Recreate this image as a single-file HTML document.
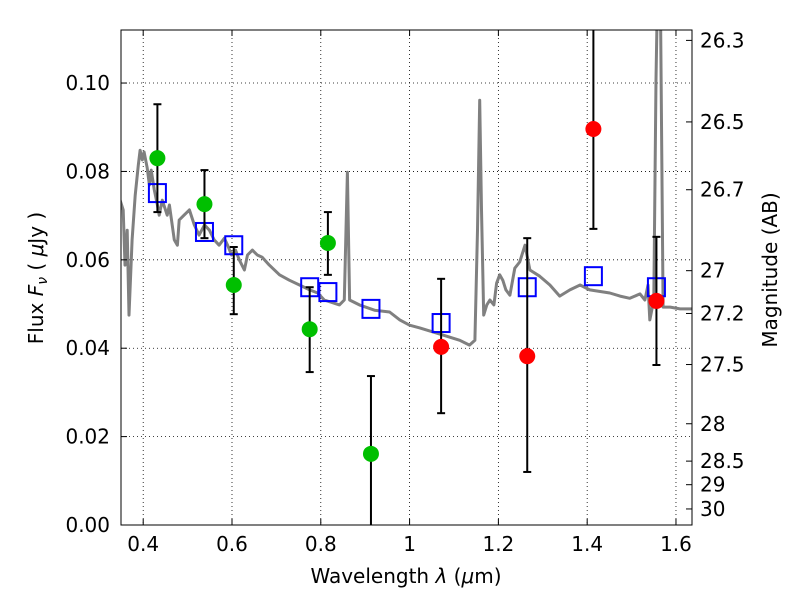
<!DOCTYPE html>
<html><head><meta charset="utf-8"><style>
body{margin:0;background:#fff}
svg text{font-family:"DejaVu Sans","Liberation Sans",sans-serif;font-size:20px;fill:#000}
</style></head><body>
<svg id="chart" width="800" height="600" viewBox="0 0 800 600" xmlns="http://www.w3.org/2000/svg">
<defs><clipPath id="clip"><rect x="121" y="30" width="571" height="495"/></clipPath></defs>
<rect x="0" y="0" width="800" height="600" fill="#fff"/>
<g id="grid"></g>
<g id="plot" clip-path="url(#clip)"></g>
<rect x="121" y="30" width="571" height="495" fill="none" stroke="#000" stroke-width="1"/>
<g id="axes"></g>
<text x="406" y="583" text-anchor="middle">Wavelength  <tspan font-style="italic">λ</tspan> (<tspan font-style="italic">μ</tspan>m)</text>
<text transform="translate(43,278) rotate(-90)" text-anchor="middle">Flux  <tspan font-style="italic">F</tspan><tspan font-style="italic" font-size="14" dy="4">ν</tspan><tspan dy="-4">  ( </tspan><tspan font-style="italic">μ</tspan>Jy )</text>
<text transform="translate(777,270) rotate(-90)" text-anchor="middle">Magnitude (AB)</text>
</svg>
<script>
const specLam=[0.348,0.355,0.359,0.364,0.368,0.375,0.382,0.389,0.393,0.398,0.402,0.409,0.414,0.418,0.425,0.432,0.436,0.443,0.454,0.459,0.470,0.477,0.481,0.492,0.504,0.515,0.526,0.538,0.549,0.560,0.571,0.583,0.590,0.599,0.608,0.617,0.628,0.635,0.646,0.657,0.668,0.684,0.707,0.729,0.752,0.775,0.793,0.808,0.842,0.853,0.860,0.865,0.887,0.921,0.955,0.978,1.000,1.023,1.068,1.113,1.135,1.147,1.153,1.158,1.162,1.167,1.174,1.181,1.190,1.196,1.203,1.210,1.217,1.226,1.237,1.248,1.260,1.271,1.293,1.316,1.338,1.361,1.384,1.406,1.451,1.474,1.496,1.519,1.530,1.537,1.541,1.550,1.555,1.560,1.564,1.571,1.587,1.609,1.636];
const specFlux=[0.0735,0.0713,0.0588,0.0667,0.0475,0.0645,0.0746,0.0814,0.0848,0.0826,0.0844,0.0808,0.0769,0.0803,0.0758,0.0724,0.0701,0.0735,0.0701,0.0724,0.0645,0.0633,0.0690,0.0701,0.0713,0.0679,0.0656,0.0679,0.0667,0.0645,0.0633,0.0649,0.0633,0.0611,0.0622,0.0599,0.0577,0.0611,0.0622,0.0611,0.0606,0.0588,0.0566,0.0554,0.0543,0.0532,0.0525,0.0509,0.0498,0.0509,0.0798,0.0509,0.0498,0.0486,0.0482,0.0464,0.0452,0.0446,0.0432,0.0418,0.0407,0.0418,0.0667,0.0961,0.0713,0.0475,0.0498,0.0509,0.0498,0.0547,0.0566,0.0554,0.0532,0.0520,0.0581,0.0595,0.0633,0.0577,0.0563,0.0543,0.0518,0.0532,0.0543,0.0532,0.0525,0.0518,0.0513,0.0523,0.0509,0.0543,0.0464,0.0509,0.1007,0.13,0.13,0.0493,0.0493,0.0489,0.0489];
const bandLam=[0.432,0.538,0.604,0.775,0.816,0.913,1.071,1.265,1.414,1.556];
const obsFlux=[0.0830,0.0726,0.0543,0.0443,0.0638,0.0161,0.0403,0.0382,0.0896,0.0507];
const errLow=[0.0708,0.0649,0.0477,0.0346,0.0566,-0.002,0.0253,0.0120,0.0670,0.0362];
const errHigh=[0.0952,0.0803,0.0629,0.0538,0.0708,0.0337,0.0557,0.0649,0.13,0.0652];
const isRed=[0,0,0,0,0,0,1,1,1,1];
const modelFlux=[0.0751,0.0663,0.0633,0.0538,0.0527,0.0489,0.0457,0.0538,0.0563,0.0538];
const xTicks=[0.4,0.6,0.8,1.0,1.2,1.4,1.6];
const xTickLabels=["0.4","0.6","0.8","1","1.2","1.4","1.6"];
const yTicks=[0,0.02,0.04,0.06,0.08,0.10];
const yTickLabels=["0.00","0.02","0.04","0.06","0.08","0.10"];
const magTicks=[26.3,26.5,26.7,27,27.2,27.5,28,28.5,29,30];
const magTickLabels=["26.3","26.5","26.7","27","27.2","27.5","28","28.5","29","30"];

const NS="http://www.w3.org/2000/svg";
const X0=121,X1=692,Y0=525,Y1=30,LMIN=0.35,LMAX=1.6361,FMAX=0.112;
const sx=l=>X0+(l-LMIN)/(LMAX-LMIN)*(X1-X0);
const sy=f=>Y0-f/FMAX*(Y0-Y1);
const magToF=m=>Math.pow(10,(23.9-m)/2.5);
function mk(tag,attrs,parent){const e=document.createElementNS(NS,tag);for(const k in attrs)e.setAttribute(k,attrs[k]);parent.appendChild(e);return e;}
const grid=document.getElementById('grid'),plot=document.getElementById('plot'),axes=document.getElementById('axes');

xTicks.forEach((t,i)=>{const x=sx(t);
 const g=mk('line',{x1:x,x2:x,y1:Y1,y2:Y0,stroke:'#000','stroke-dasharray':'1,3','stroke-width':0.8},grid);
 
 mk('line',{x1:x,x2:x,y1:Y0,y2:Y0-6,stroke:'#000'},axes);mk('line',{x1:x,x2:x,y1:Y1,y2:Y1+6,stroke:'#000'},axes);
 const tx=mk('text',{x:x,y:Y0+26,'text-anchor':'middle'},axes);tx.textContent=xTickLabels[i];
 });
yTicks.forEach((t,i)=>{const y=sy(t);
 const g=mk('line',{x1:X0,x2:X1,y1:y,y2:y,stroke:'#000','stroke-dasharray':'1,3','stroke-width':0.8},grid);
 
 mk('line',{x1:X0,x2:X0+6,y1:y,y2:y,stroke:'#000'},axes);
 const tx=mk('text',{x:X0-11,y:y+7,'text-anchor':'end'},axes);tx.textContent=yTickLabels[i];
 });
magTicks.forEach((m,i)=>{const y=sy(magToF(m));
 mk('line',{x1:X1,x2:X1-6,y1:y,y2:y,stroke:'#000'},axes);
 const tx=mk('text',{x:X1+8,y:y+7,'text-anchor':'start'},axes);tx.textContent=magTickLabels[i];
 });

const pts=specLam.map((l,i)=>sx(l).toFixed(1)+','+sy(specFlux[i]).toFixed(1)).join(' ');
const sp=mk('polyline',{points:pts,fill:'none',stroke:'#808080','stroke-width':3,'stroke-linejoin':'round'},plot);


bandLam.forEach((l,i)=>{const x=sx(l),y=sy(modelFlux[i]);
 const r=mk('rect',{x:x-8.5,y:y-9,width:17,height:18,fill:'none',stroke:'#0000ff','stroke-width':2},plot);
 });
bandLam.forEach((l,i)=>{const x=sx(l),yl=sy(errLow[i]),yh=sy(errHigh[i]);
 const e=mk('line',{x1:x,x2:x,y1:yl,y2:yh,stroke:'#000','stroke-width':2},plot);
 
 mk('line',{x1:x-4,x2:x+4,y1:yl,y2:yl,stroke:'#000','stroke-width':2},plot);
 mk('line',{x1:x-4,x2:x+4,y1:yh,y2:yh,stroke:'#000','stroke-width':2},plot);});
bandLam.forEach((l,i)=>{
 const c=mk('circle',{cx:sx(l),cy:sy(obsFlux[i]),r:8,fill:isRed[i]?'#ff0000':'#00bf00'},plot);
 });
</script>
</body></html>
